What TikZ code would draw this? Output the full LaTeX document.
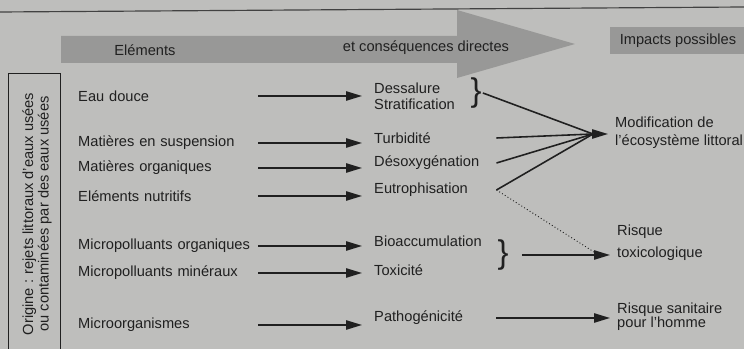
\documentclass[tikz,border=0pt]{standalone}
\usepackage{fontspec}
\setmainfont{Liberation Sans}
\usetikzlibrary{arrows.meta}
\definecolor{pagegray}{RGB}{190,190,188}
\definecolor{bandgray}{RGB}{152,152,151}
\definecolor{inkgray}{RGB}{32,32,32}
\begin{document}
\begin{tikzpicture}[x=0.03cm,y=-0.03cm,font=\fontsize{12.5}{15}\selectfont,text=inkgray,
  el/.style={anchor=west,inner sep=0pt,text width=5.4cm,align=left},
  cq/.style={anchor=west,inner xsep=0.36cm,inner ysep=1pt,text width=3.3cm,align=left},
  im/.style={anchor=west,inner xsep=0.21cm,inner ysep=1pt,align=left},
  br/.style={inner sep=1pt,font=\fontsize{28}{28}\selectfont},
  ar/.style={draw=inkgray,line width=1.35pt,-{Triangle[length=4.8mm,width=2.8mm]}},
  ln/.style={draw=inkgray,line width=1.35pt}]
  \useasboundingbox (0,0) rectangle (744,349);
  \fill[pagegray] (0,0) rectangle (744,349);
  \draw[inkgray!85,line width=1pt] (0,12) -- (744,7);
  \fill[bandgray] (61,36) -- (457,36) -- (457,10) -- (575,44) -- (457,78) -- (457,63) -- (61,63) -- cycle;
  \node (h1) at (145,50) {Eléments};
  \node (h2) at (426,48) {et conséquences directes};
  \node[fill=bandgray,minimum width=4.1cm,minimum height=0.81cm] (h3) at (678,41) {Impacts possibles};
  \draw[inkgray,line width=0.6pt] (8,73) rectangle (60,352);
  \node[rotate=90,align=center,font=\fontsize{12.5}{13.2}\selectfont] (orig) at (37,214) {Origine : rejets littoraux d'eaux usées\\ou contaminées par des eaux usées};
  \node[el] (e1) at (78,96) {Eau douce};
  \node[el] (e2) at (78,143) {Matières en suspension};
  \node[el] (e3) at (78,168) {Matières organiques};
  \node[el] (e4) at (78,196) {Eléments nutritifs};
  \node[el] (e5) at (78,246) {Micropolluants organiques};
  \node[el] (e6) at (78,273) {Micropolluants minéraux};
  \node[el] (e7) at (78,325) {Microorganismes};
  \node[cq] (c1) at (362,96) {Dessalure\\[-1pt]Stratification};
  \node[cq] (c2) at (362,138) {Turbidité};
  \node[cq] (c3) at (362,163) {Désoxygénation};
  \node[cq] (c4) at (362,190) {Eutrophisation};
  \node[cq] (c5) at (362,241) {Bioaccumulation};
  \node[cq] (c6) at (362,270) {Toxicité};
  \node[cq] (c7) at (362,318) {Pathogénicité};
  \node[br] (br1) at (476,93) {\}};
  \node[br] (br2) at (503,255) {\}};
  \node[im] (i1) at (608,133) {Modification de\\l'écosystème littoral};
  \node[im] (i2) at (610,243) {Risque\\[4pt]toxicologique};
  \node[im] (i3) at (610,317) {Risque sanitaire\\[-3pt]pour l'homme};
  \coordinate (m) at (593,134);
  \coordinate (r) at (594,252);
  \draw[ar] (e1.east) -- (e1.east -| c1.west);
  \draw[ar] (e2.east) -- (e2.east -| c2.west);
  \draw[ar] (e3.east) -- (e3.east -| c3.west);
  \draw[ar] (e4.east) -- (e4.east -| c4.west);
  \draw[ar] (e5.east) -- (e5.east -| c5.west);
  \draw[ar] (e6.east) -- (e6.east -| c6.west);
  \draw[ar] (e7.east) -- (e7.east -| c7.west);
  \draw[ln] (br1.east) -- (m);
  \draw[ln] (c2.east) -- (m);
  \draw[ln] (c3.east) -- (m);
  \draw[ln] (c4.east) -- (m);
  \draw[ar] (m) -- (m -| i1.west);
  \draw[ar,shorten <=0.36cm] (br2.east) -- (br2.east -| i2.west);
  \draw[inkgray,line width=0.8pt,dotted] (c4.east) -- (r);
  \draw[ar] (c7.east) -- (c7.east -| i3.west);
\end{tikzpicture}
\end{document}
